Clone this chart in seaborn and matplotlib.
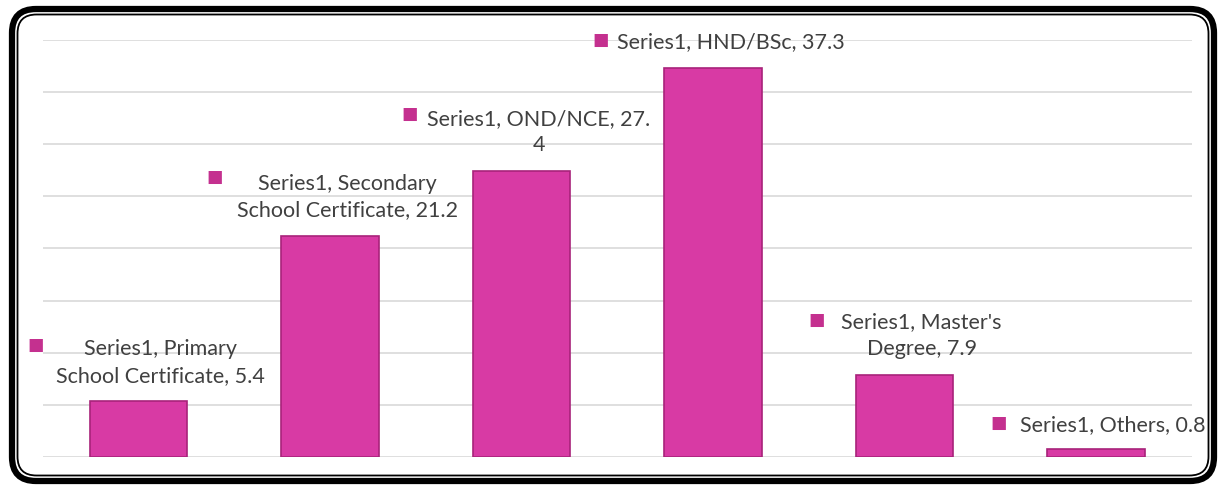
import matplotlib
matplotlib.use("Agg")
import matplotlib.pyplot as plt
import seaborn as sns
import pandas as pd
from matplotlib.patches import FancyBboxPatch

categories = ["Primary School Certificate", "Secondary School Certificate", "OND/NCE",
              "HND/BSc", "Master's Degree", "Others"]
values = [5.4, 21.2, 27.4, 37.3, 7.9, 0.8]
label_texts = ["Series1, Primary\nSchool Certificate, 5.4",
               "Series1, Secondary\nSchool Certificate, 21.2",
               "Series1, OND/NCE, 27.\n4",
               "Series1, HND/BSc, 37.3",
               "Series1, Master's\nDegree, 7.9",
               "Series1, Others, 0.8"]
# label placement (pixel offsets from bar top centre): text centre, legend-key square
text_offsets = [(22, 38), (17, 39), (17, 39), (18, 26), (17, 39), (17, 24)]
key_offsets = [(-103, 56), (-115, 59), (-112, 57), (-113, 28), (-88, 55), (-98, 26)]

df = pd.DataFrame({"level": categories, "value": values})

sns.set_style("white")
plt.rcParams["font.family"] = ["Lato", "DejaVu Sans"]

fig = plt.figure(figsize=(12.2, 4.86), dpi=100)

# rounded double frame
frame = fig.add_axes([0, 0, 1, 1])
frame.set_xlim(0, 1220)
frame.set_ylim(486, 0)
frame.axis("off")
frame.patch.set_alpha(0)
frame.add_patch(FancyBboxPatch((12, 9), 1202, 472, boxstyle="round,pad=0,rounding_size=24",
                               fill=False, edgecolor="black", linewidth=4.5))
frame.add_patch(FancyBboxPatch((17.5, 14.5), 1191, 461, boxstyle="round,pad=0,rounding_size=19",
                               fill=False, edgecolor="black", linewidth=1.3))

ax = fig.add_axes([0.035, 0.0597, 0.942, 0.8584])
ax.patch.set_alpha(0)
sns.barplot(data=df, x="level", y="value", color="#D83AA4", saturation=1,
            width=0.51, edgecolor="#A8237A", linewidth=1.2, ax=ax, zorder=3)

ax.set_ylim(0, 40)
ax.set_yticks(range(0, 41, 5))
ax.yaxis.grid(True, color="#D9D9D9", linewidth=1.2, zorder=0)
ax.set_axisbelow(True)
ax.set_xlim(-0.5, len(categories) - 0.5)
ax.set_xticks([])
ax.set_yticklabels([])
ax.tick_params(left=False, bottom=False)
ax.set_xlabel("")
ax.set_ylabel("")
for s in ax.spines.values():
    s.set_visible(False)

for i, (v, txt) in enumerate(zip(values, label_texts)):
    tdx, tdy = text_offsets[i]
    kdx, kdy = key_offsets[i]
    ax.annotate(txt, xy=(i, v), xytext=(tdx, tdy), textcoords="offset pixels",
                ha="center", va="center", multialignment="center",
                fontsize=15.5, color="#404040", linespacing=1.4, zorder=5,
                annotation_clip=False)
    ax.annotate("■", xy=(i, v), xytext=(kdx, kdy), textcoords="offset pixels",
                ha="center", va="center", fontsize=12.5, color="#C4308F",
                family=["DejaVu Sans"], zorder=5, annotation_clip=False)

fig.savefig("out.png", dpi=100)
